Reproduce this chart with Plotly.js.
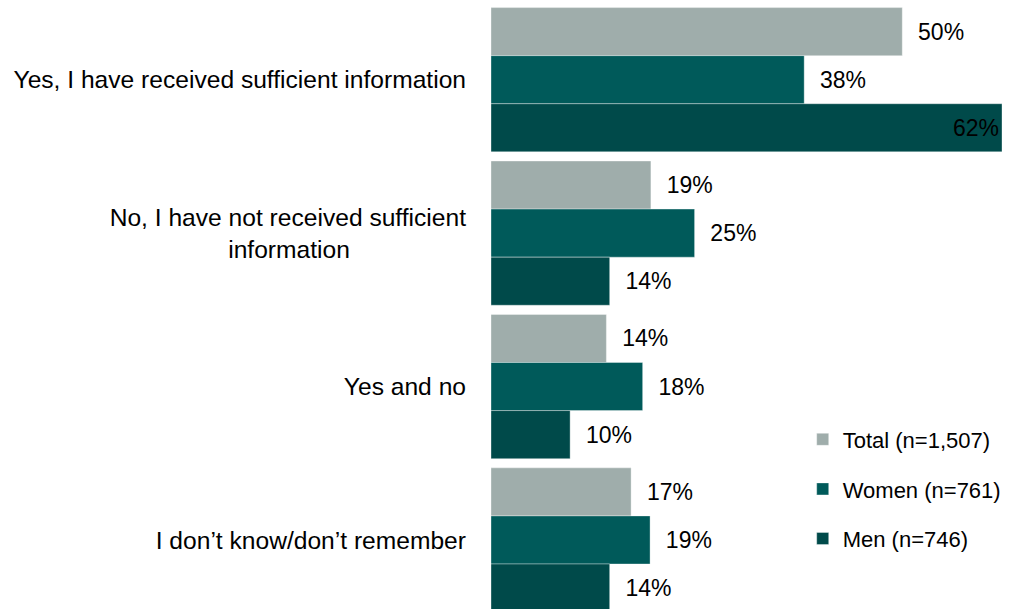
<!DOCTYPE html>
<html>
<head>
<meta charset="utf-8">
<script src="https://cdn.plot.ly/plotly-3.0.1.min.js"></script>
<style>html,body{margin:0;padding:0;background:#fff;}#chart{width:1024px;height:609px;}</style>
</head>
<body>
<div id="chart"></div>
<script>
const categories = [
  "Yes, I have received sufficient information",
  "No, I have not received sufficient<br>information" + "\u00a0".repeat(17),
  "Yes and no",
  "I don\u2019t know/don\u2019t remember"
];
const seriesNames = ["Total (n=1,507)", "Women (n=761)", "Men (n=746)"];
const totalValues = [49.9, 19.4, 14.0, 17.0];
const womenValues = [38.0, 24.7, 18.4, 19.3];
const menValues = [62.0, 14.4, 9.6, 14.4];
const colors = ["#9FADAB", "#005A5A", "#004A4A"];

const font = "Liberation Sans, Arial, sans-serif";
const allValues = [totalValues, womenValues, menValues];
const traces = allValues.map((vals, i) => ({
  type: "bar",
  orientation: "h",
  name: seriesNames[i],
  legendgroup: "g" + i,
  y: categories,
  x: vals,
  text: vals.map(v => v >= 60 ? Math.round(v) + "%" : "\u00a0\u00a0" + Math.round(v) + "%"),
  textposition: vals.map(v => v >= 60 ? "inside" : "outside"),
  insidetextanchor: "end",
  textfont: {family: font, size: 23, color: "#000"},
  insidetextfont: {family: font, size: 23, color: "#000"},
  outsidetextfont: {family: font, size: 23, color: "#000"},
  constraintext: "none",
  cliponaxis: false,
  marker: {color: colors[i], line: {color: "rgba(255,255,255,0.35)", width: 1}},
  hoverinfo: "none"
}));

const layout = {
  width: 1024, height: 609,
  margin: {l: 491, r: 22, t: 3, b: 0},
  paper_bgcolor: "#fff", plot_bgcolor: "#fff",
  barmode: "group", bargap: 0.06, bargroupgap: 0,
  font: {family: font, color: "#000"},
  xaxis: {range: [0, 62], visible: false, fixedrange: true},
  yaxis: {
    range: [3.45, -0.5], type: "category",
    showline: false, showgrid: false, zeroline: false, ticks: "",
    ticklabelstandoff: 24,
    tickfont: {family: font, size: 24.6, color: "#000"}
  },
  showlegend: true,
  legend: {
    x: 0.61, xanchor: "left", y: 0.198, yanchor: "middle",
    traceorder: "grouped", tracegroupgap: 18,
    font: {family: font, size: 22, color: "#000"},
    bgcolor: "rgba(0,0,0,0)"
  }
};

Plotly.newPlot("chart", traces, layout, {staticPlot: true, displayModeBar: false});
</script>
</body>
</html>
